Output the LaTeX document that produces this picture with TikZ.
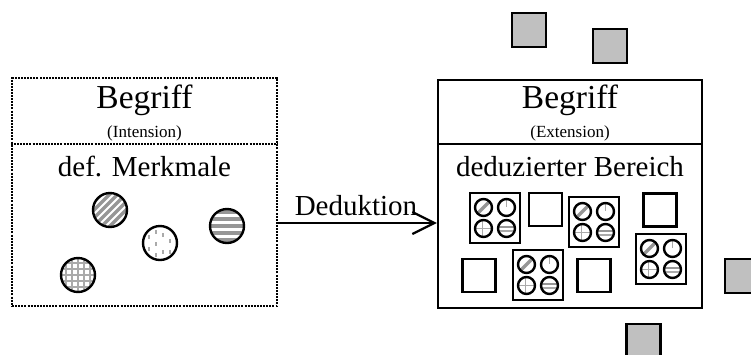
\documentclass[tikz,border=0pt]{standalone}
\usepackage{fontspec}
\setmainfont{Liberation Serif}
\usetikzlibrary{arrows.meta,calc}
\definecolor{sqgray}{RGB}{192,192,192}
\definecolor{patgray}{RGB}{150,150,150}
\definecolor{lightpat}{RGB}{170,170,170}
\begin{document}
\begin{tikzpicture}[x=1pt,y=-1pt,
  frame/.style={draw, line width=2.4pt, inner sep=0pt, minimum width=265pt, minimum height=228pt},
  dotframe/.style={frame, line width=2.4pt, dash pattern=on 2pt off 1.1pt},
  divline/.style={line width=2.4pt},
  dotdiv/.style={line width=2.4pt, dash pattern=on 2pt off 1.1pt},
  bigtxt/.style={inner sep=0pt, anchor=base, font=\fontsize{33.5}{36}\selectfont},
  smalltxt/.style={inner sep=0pt, anchor=base, font=\fontsize{17}{19}\selectfont},
  midtxt/.style={inner sep=0pt, anchor=base, font=\fontsize{29}{32}\selectfont},
  emptysq/.style={draw, line width=2.4pt, inner sep=0pt, minimum size=33pt},
  graysq/.style={draw, line width=2.4pt, fill=sqgray, inner sep=0pt, minimum size=34pt},
  ring/.style={draw, line width=2.4pt},
  arr/.style={line width=2.2pt, -{Straight Barb[length=22pt,width=22pt,line width=2.2pt]}},
  quad/.pic={
    \draw[line width=2.4pt] (-25,-25) rectangle (25,25);
    \begin{scope}
      \clip (-11.5,-10.5) circle (8.5);
      \draw[patgray, line width=3.5pt] (-20,-2) -- (-3,-19);
    \end{scope}
    \draw[ring] (-11.5,-10.5) circle (8.5);
    \begin{scope}
      \clip (11.5,-10.5) circle (8.5);
      \draw[lightpat, line width=1.5pt] (11.5,-19) -- (11.5,-11);
    \end{scope}
    \draw[ring] (11.5,-10.5) circle (8.5);
    \begin{scope}
      \clip (-11.5,10.5) circle (8.5);
      \draw[lightpat, line width=1.5pt] (-20,10.5) -- (-3,10.5);
      \draw[lightpat, line width=1.5pt] (-12.5,2) -- (-12.5,19);
    \end{scope}
    \draw[ring] (-11.5,10.5) circle (8.5);
    \begin{scope}
      \clip (11.5,10.5) circle (8.5);
      \draw[patgray, line width=2pt] (3,9) -- (20,9);
      \draw[lightpat, line width=1.5pt] (3,13) -- (20,13);
    \end{scope}
    \draw[ring] (11.5,10.5) circle (8.5);
  }
]
\useasboundingbox (0,0) rectangle (751,354);

% ---------- left box ----------
\node[dotframe] (L) at (144.5,192) {};
\coordinate (divy) at (0,144);
\draw[dotdiv] (L.west |- divy) -- (L.east |- divy);
\node[bigtxt] (lb) at (144.5,108) {Begriff};
\node[smalltxt] (li) at (144.5,137) {(Intension)};
\node[midtxt] (lm) at (144.5,176) {def. Merkmale};

% circles in left box
\coordinate (c1) at (110,210);
\coordinate (c2) at (160,243);
\coordinate (c3) at (227,226);
\coordinate (c4) at (78,275);
\begin{scope}
  \clip (c1) circle (17);
  \foreach \c in {-24,-16,-8,0,8,16,24}
    \draw[patgray, line width=3.2pt] ($(c1)+(-25,25+\c)$) -- ($(c1)+(25,-25+\c)$);
\end{scope}
\draw[ring] (c1) circle (17);
\begin{scope}
  \clip (c2) circle (17);
  \foreach \px/\py in {-11/-6,-11/6,-4/1,-4/-11,3/-8,3/9,10/-2,10/9,-4/12}
    \draw[lightpat, line width=1.4pt] ($(c2)+(\px,\py-2)$) -- ($(c2)+(\px,\py+2)$);
\end{scope}
\draw[ring] (c2) circle (17);
\begin{scope}
  \clip (c3) circle (17);
  \foreach \c in {-14,-7,0,7,14}
    \draw[patgray, line width=3.2pt] ($(c3)+(-20,\c)$) -- ($(c3)+(20,\c)$);
\end{scope}
\draw[ring] (c3) circle (17);
\begin{scope}
  \clip (c4) circle (17);
  \foreach \c in {-12,-6,0,6,12}{
    \draw[lightpat, line width=1.6pt] ($(c4)+(-20,\c)$) -- ($(c4)+(20,\c)$);
    \draw[lightpat, line width=1.6pt] ($(c4)+(\c,-20)$) -- ($(c4)+(\c,20)$);
  }
\end{scope}
\draw[ring] (c4) circle (17);

% ---------- right box ----------
\node[frame, minimum width=264pt] (R) at (570,194) {};
\draw[divline] (R.west |- divy) -- (R.east |- divy);
\node[bigtxt] (rb) at (570,108) {Begriff};
\node[smalltxt] (re) at (570,137) {(Extension)};
\node[midtxt] (rm) at (570,176) {deduzierter Bereich};

\pic at (495,218) {quad};
\pic at (594,222) {quad};
\pic at (661,259) {quad};
\pic at (538,275) {quad};
\node[emptysq] (e1) at (545.5,209.5) {};
\node[emptysq] (e2) at (660,210) {};
\node[emptysq] (e3) at (479,275.5) {};
\node[emptysq] (e4) at (594,275.5) {};

% ---------- outside gray squares ----------
\node[graysq] (s1) at (529,30) {};
\node[graysq] (s2) at (610,46) {};
\node[graysq] (s3) at (742,276) {};
\node[graysq] (s4) at (643.5,341) {};

% ---------- arrow ----------
\coordinate (ay) at (0,223);
\draw[arr] (L.east |- ay) -- (R.west |- ay);
\node[inner sep=0pt, anchor=base, font=\fontsize{29}{32}\selectfont] (ded) at (356,215) {Deduktion};
\end{tikzpicture}
\end{document}
